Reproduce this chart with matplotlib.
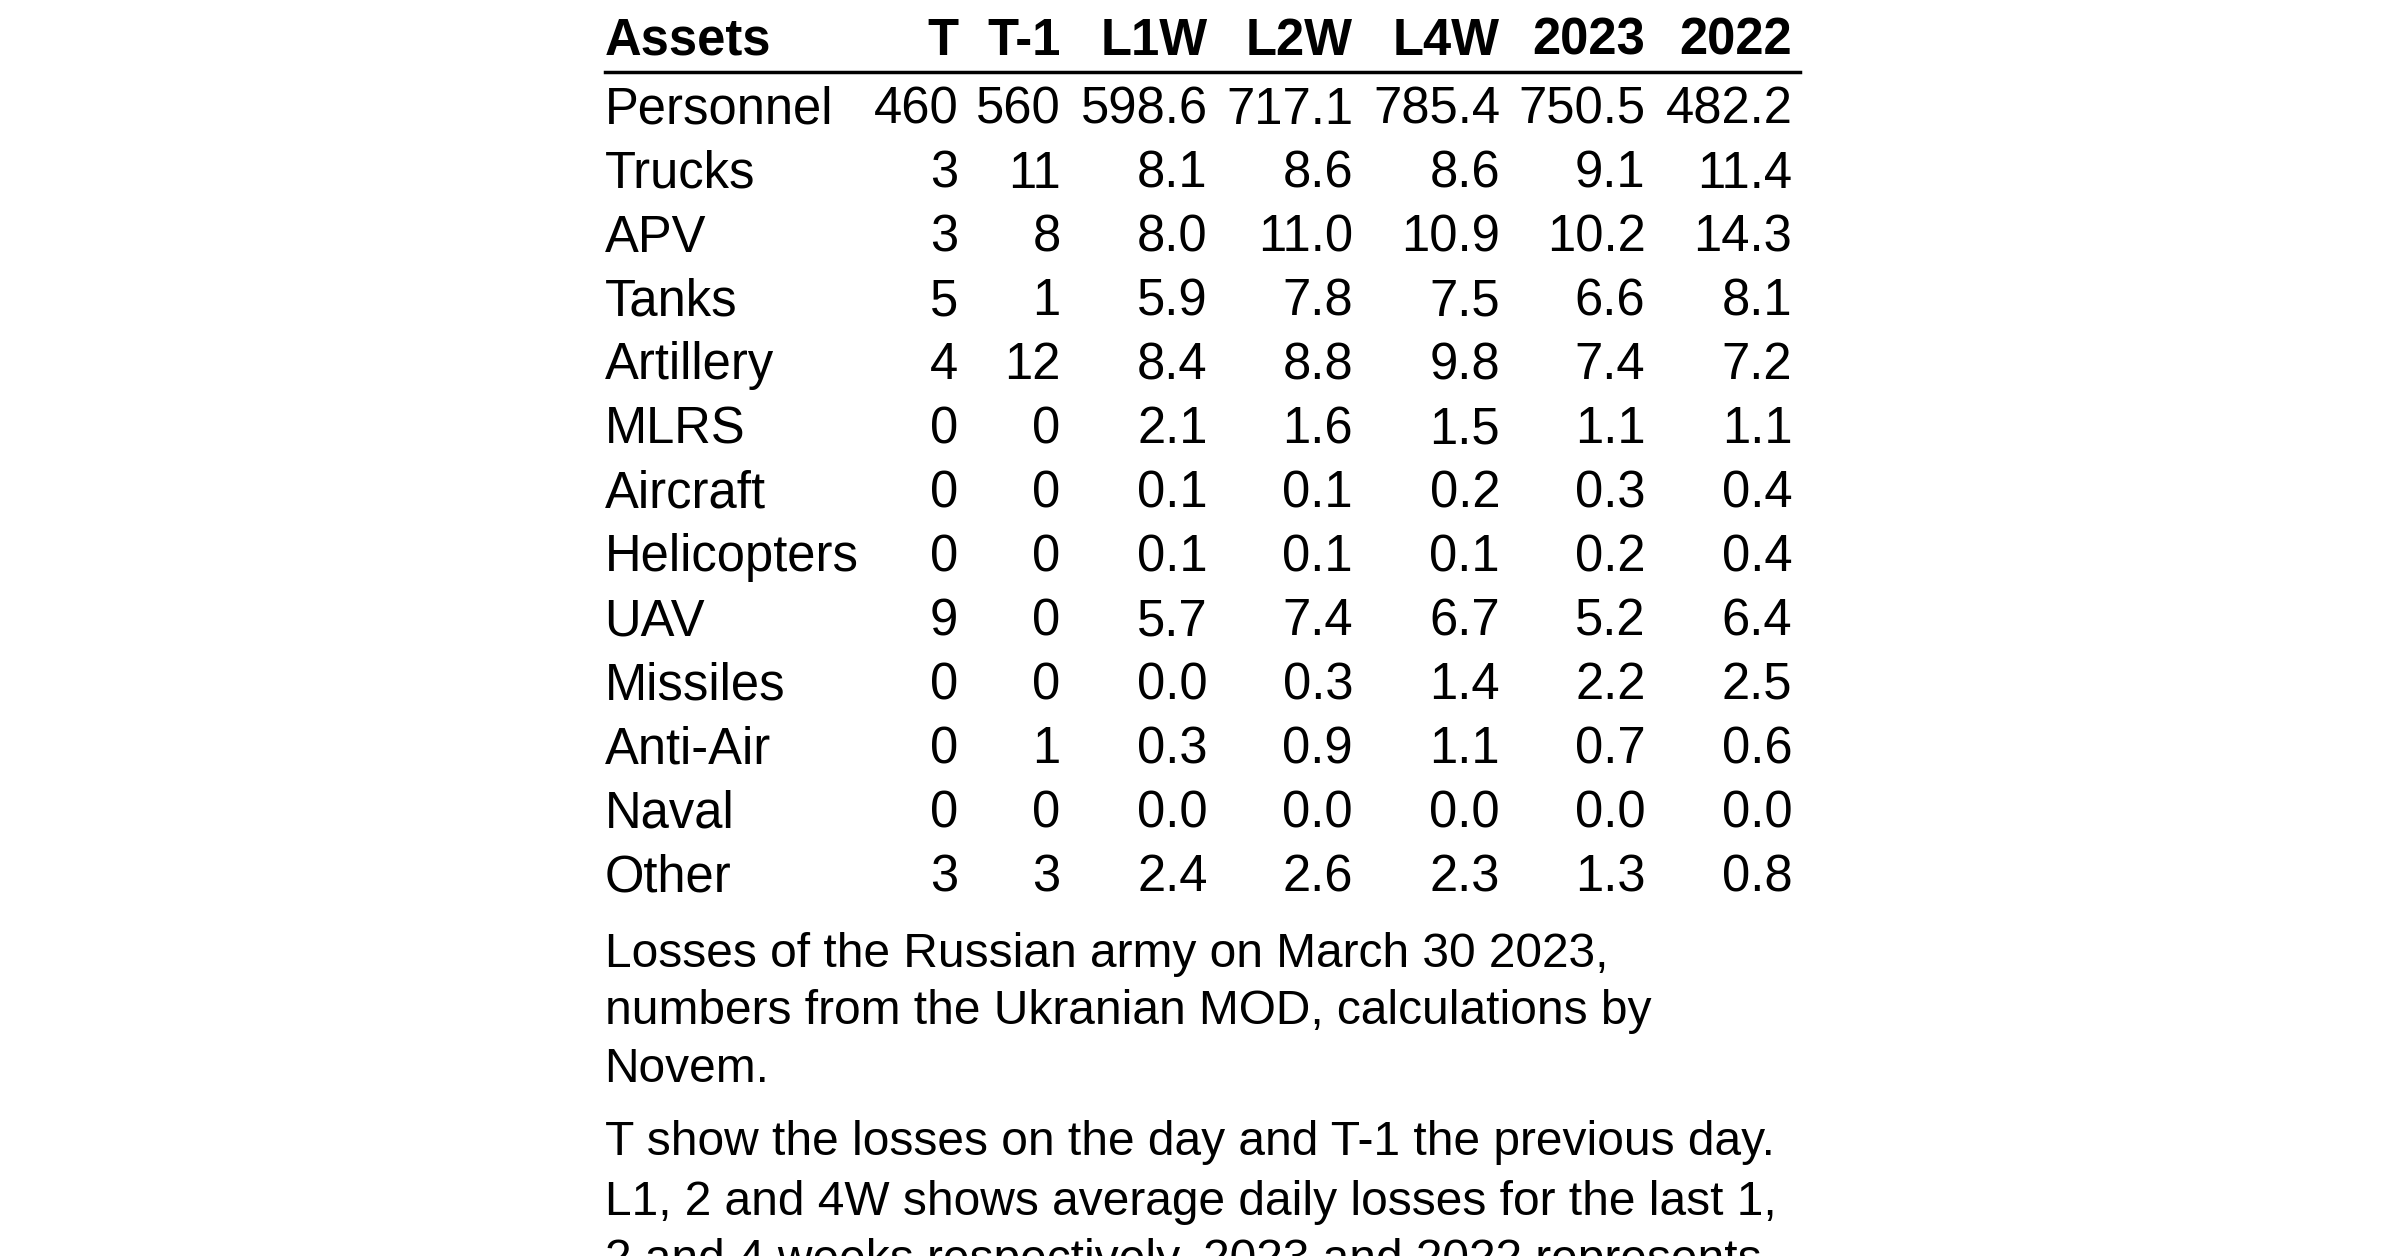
import matplotlib.pyplot as plt

plt.rcParams['font.family'] = ['Liberation Sans', 'DejaVu Sans']

columns = ['T', 'T-1', 'L1W', 'L2W', 'L4W', '2023', '2022']
assets = ['Personnel', 'Trucks', 'APV', 'Tanks', 'Artillery', 'MLRS', 'Aircraft',
          'Helicopters', 'UAV', 'Missiles', 'Anti-Air', 'Naval', 'Other']
t_day = ['460', '3', '3', '5', '4', '0', '0', '0', '9', '0', '0', '0', '3']
t_prev = ['560', '11', '8', '1', '12', '0', '0', '0', '0', '0', '1', '0', '3']
l1w = ['598.6', '8.1', '8.0', '5.9', '8.4', '2.1', '0.1', '0.1', '5.7', '0.0', '0.3', '0.0', '2.4']
l2w = ['717.1', '8.6', '11.0', '7.8', '8.8', '1.6', '0.1', '0.1', '7.4', '0.3', '0.9', '0.0', '2.6']
l4w = ['785.4', '8.6', '10.9', '7.5', '9.8', '1.5', '0.2', '0.1', '6.7', '1.4', '1.1', '0.0', '2.3']
y2023 = ['750.5', '9.1', '10.2', '6.6', '7.4', '1.1', '0.3', '0.2', '5.2', '2.2', '0.7', '0.0', '1.3']
y2022 = ['482.2', '11.4', '14.3', '8.1', '7.2', '1.1', '0.4', '0.4', '6.4', '2.5', '0.6', '0.0', '0.8']
caption = [
    'Losses of the Russian army on March 30 2023,',
    'numbers from the Ukranian MOD, calculations by',
    'Novem.',
]
caption2 = [
    'T show the losses on the day and T-1 the previous day.',
    'L1, 2 and 4W shows average daily losses for the last 1,',
    '2 and 4 weeks respectively. 2023 and 2022 represents',
]

W, H = 1568, 821
fig = plt.figure(figsize=(24, 12.56), dpi=100)
fs = 36.5
cfs = 34.5

def fx(x):
    return x / W

def fy(y):
    return 1 - y / H

left = 395
col_right = [626, 693, 789, 884, 980, 1075, 1171]
series = [t_day, t_prev, l1w, l2w, l4w, y2023, y2022]

fig.text(fx(left), fy(27), 'Assets', ha='left', va='center', fontsize=fs, fontweight='bold')
for c, xr in zip(columns, col_right):
    fig.text(fx(xr), fy(27), c, ha='right', va='center', fontsize=fs, fontweight='bold')
fig.add_artist(plt.Line2D([fx(left), fx(1176)], [fy(47), fy(47)], color='black', lw=2.5))

for i, a in enumerate(assets):
    y = 72 + 41.8 * i
    fig.text(fx(left), fy(y), a, ha='left', va='center', fontsize=fs)
    for s, xr in zip(series, col_right):
        fig.text(fx(xr), fy(y), s[i], ha='right', va='center', fontsize=fs)

for line, y in zip(caption, [624, 661, 699]):
    fig.text(fx(left), fy(y), line, ha='left', va='center', fontsize=cfs)
for line, y in zip(caption2, [747, 786, 824]):
    fig.text(fx(left), fy(y), line, ha='left', va='center', fontsize=cfs)

fig.savefig('out.png', dpi=100, facecolor='white')
